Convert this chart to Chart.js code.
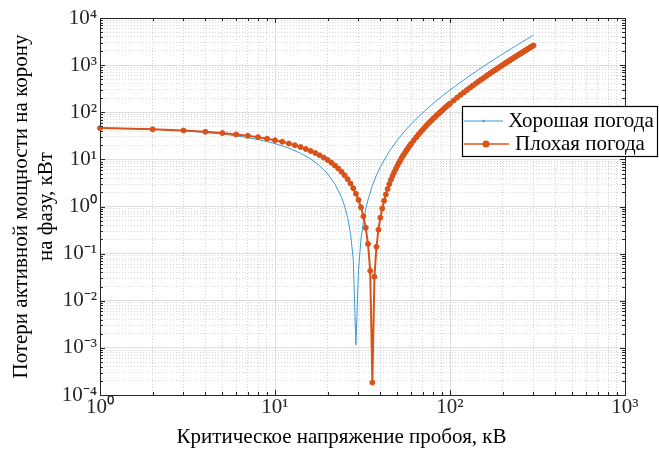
<!DOCTYPE html>
<html><head><meta charset="utf-8">
<script src="https://cdn.jsdelivr.net/npm/chart.js@4"></script>
<style>html,body{margin:0;padding:0;background:#fff}</style>
</head><body>
<canvas id="c" width="659" height="450" style="width:659px;height:450px;display:block"></canvas>
<script>
// ---- data ----
const seriesNames = ['Хорошая погода', 'Плохая погода'];
const xTitle = 'Критическое напряжение пробоя, кВ';
const yTitle = ['Потери активной мощности на корону', 'на фазу, кВт'];

const xGood = [1,2,3,4,5,6,7,8,9,10,12,14,16,18,20,22,24,25,26,27,28,29,30,31,32,33,34,36,38,40,45,50,55,60,70,80,90,100,120,140,160,180,200,225,250,275,300];
const yGood = [46.7,43.5,40.3,37.3,34.4,31.6,28.9,26.4,23.9,21.6,17.3,13.5,10.2,7.32,4.93,3.01,1.56,1.01,0.582,0.270,0.0767,0.00116,0.0436,0.204,0.483,0.879,1.39,2.78,4.63,6.96,14.8,25.7,39.5,56.2,98.5,153,219,296,487,725,1010,1343,1722,2263,2878,3566,4329];

const xBad = [1,2,3,4,5,6,7,8,9,10,11,12,13,14,15,16,17,18,19,20,21,22,23,24,25,26,27,28,29,30,31,32,33,34,35,36,37,38,39,40,41,42,43,44,45,46,47,48,49,50,51,52,53,54,55,56,57,58,59,60,
  62,64,66,68,70,72,74,76,78,80,82,84,86,88,90,92,94,96,98,100,
  105,110,115,120,125,130,135,140,145,150,155,160,165,170,175,180,185,190,195,200,205,210,215,220,225,230,235,240,245,250,255,260,265,270,275,280,285,290,295,300];
const yBad = [46.1,43.5,41.0,38.6,36.2,33.9,31.7,29.6,27.5,25.5,23.6,21.7,20.0,18.3,16.6,15.1,13.6,12.2,10.9,9.68,8.52,7.42,6.41,5.46,4.60,3.80,3.08,2.44,1.87,1.38,0.964,0.621,0.353,0.161,0.0429,0.000184,0.0324,0.140,0.322,0.579,0.911,1.32,1.80,2.36,2.99,3.70,4.48,5.34,6.27,7.28,8.36,9.52,10.8,12.1,13.4,14.9,16.4,18.0,19.7,21.5,
  25.2,29.3,33.6,38.2,43.2,48.4,54.0,59.8,65.9,72.4,79.1,86.2,93.5,101,109,117,126,135,144,153,
  178,205,234,264,297,331,367,405,445,487,530,576,623,673,724,777,832,889,947,1008,1070,1134,1201,1269,1339,1410,1484,1560,1637,1716,1797,1880,1965,2052,2141,2231,2324,2418,2514,2612];

const xMajor = [1, 10, 100, 1000];
const xTickLabels = ['10\u2070', '10\u00B9', '10\u00B2', '10\u00B3'];
const yMajor = [1e-4, 1e-3, 1e-2, 1e-1, 1, 10, 100, 1000, 10000];
const yTickLabels = ['10\u207B\u2074', '10\u207B\u00B3', '10\u207B\u00B2', '10\u207B\u00B9', '10\u2070', '10\u00B9', '10\u00B2', '10\u00B3', '10\u2074'];

// ---- styling ----
const FONT = '"Liberation Serif", "Times New Roman", serif';
const blue = '#3d9ad6';
const orange = '#D95319';
const axisColor = '#262626';
const majorGrid = '#dedede';
const minorGrid = '#d6d6d6';
const none = 'rgba(0,0,0,0)';

function makeTicks(majors) {
  const out = [];
  for (let i = 0; i < majors.length; i++) {
    out.push({ value: majors[i], major: true });
    if (i < majors.length - 1) for (let m = 2; m <= 9; m++) out.push({ value: majors[i] * m, major: false });
  }
  return out;
}
function labelFor(v, majors, labels) {
  for (let i = 0; i < majors.length; i++) {
    if (Math.abs(Math.log10(v) - Math.log10(majors[i])) < 1e-6) return labels[i];
  }
  return '';
}

const decor = {
  id: 'decor',
  afterDraw(chart) {
    const ctx = chart.ctx, a = chart.chartArea;
    const xs = chart.scales.x, ys = chart.scales.y;
    ctx.save();
    ctx.strokeStyle = axisColor; ctx.lineWidth = 1;
    ctx.beginPath();
    xs.ticks.forEach(t => {
      const p = Math.round(xs.getPixelForValue(t.value)) + 0.5; const L = t.major ? 5 : 3;
      ctx.moveTo(p, a.bottom); ctx.lineTo(p, a.bottom - L);
      ctx.moveTo(p, a.top); ctx.lineTo(p, a.top + L);
    });
    ys.ticks.forEach(t => {
      const p = Math.round(ys.getPixelForValue(t.value)) + 0.5; const L = t.major ? 5 : 3;
      ctx.moveTo(a.left, p); ctx.lineTo(a.left + L, p);
      ctx.moveTo(a.right, p); ctx.lineTo(a.right - L, p);
    });
    ctx.stroke();

    // legend
    const bx = 462.5, by = 106.5, bw = 195, bh = 50;
    ctx.fillStyle = '#fff';
    ctx.fillRect(bx, by, bw, bh);
    ctx.strokeStyle = '#000'; ctx.lineWidth = 1.2;
    ctx.strokeRect(bx, by, bw, bh);
    const ds = chart.data.datasets;
    const rows = [by + 14.5, by + 37.5];
    ctx.strokeStyle = blue; ctx.lineWidth = 1;
    ctx.beginPath(); ctx.moveTo(464, rows[0]); ctx.lineTo(503, rows[0]); ctx.stroke();
    ctx.fillStyle = blue; ctx.beginPath(); ctx.arc(483.5, rows[0], 1.2, 0, Math.PI * 2); ctx.fill();
    ctx.strokeStyle = orange; ctx.lineWidth = 1.3;
    ctx.beginPath(); ctx.moveTo(464, rows[1]); ctx.lineTo(509, rows[1]); ctx.stroke();
    ctx.fillStyle = orange; ctx.beginPath(); ctx.arc(486, rows[1], 3.5, 0, Math.PI * 2); ctx.fill();
    ctx.fillStyle = '#000';
    ctx.font = '21px ' + FONT;
    ctx.textAlign = 'center'; ctx.textBaseline = 'middle';
    ctx.fillText(ds[0].label, 581, rows[0]);
    ctx.fillText(ds[1].label, 580, rows[1]);
    ctx.restore();
  }
};

const tickFont = { family: FONT, size: 21 };

new Chart(document.getElementById('c'), {
  type: 'line',
  data: {
    datasets: [
      {
        label: seriesNames[0],
        data: xGood.map((x, i) => ({ x: x, y: yGood[i] })),
        borderColor: blue, backgroundColor: blue, borderWidth: 1,
        pointRadius: 0, tension: 0, order: 2
      },
      {
        label: seriesNames[1],
        data: xBad.map((x, i) => ({ x: x, y: yBad[i] })),
        borderColor: orange, backgroundColor: orange, borderWidth: 2,
        pointRadius: 2.5, pointBorderWidth: 1, pointBackgroundColor: orange, pointBorderColor: orange,
        tension: 0, order: 1, clip: false
      }
    ]
  },
  options: {
    responsive: false,
    devicePixelRatio: 1,
    animation: false,
    layout: { padding: { top: 18, right: 34, left: 0, bottom: 0 } },
    plugins: { legend: { display: false }, tooltip: { enabled: false } },
    scales: {
      x: {
        type: 'logarithmic', position: 'bottom', min: 1, max: 1000,
        afterBuildTicks: s => { s.ticks = makeTicks(xMajor); },
        afterFit: s => { s.height = 55; },
        ticks: { autoSkip: false, maxRotation: 0, padding: 0, color: axisColor, font: tickFont,
          callback: v => labelFor(v, xMajor, xTickLabels) },
        grid: { drawTicks: false, lineWidth: 1, color: c => (c.tick && c.tick.major) ? none : minorGrid },
        border: { display: true, color: axisColor, width: 1, dash: [1, 2] },
        title: { display: true, text: xTitle + '\u2002\u2002\u2002\u2002', color: '#000', font: { family: FONT, size: 21 }, padding: { top: 0, bottom: 0 } }
      },
      x2: {
        type: 'logarithmic', position: 'top', min: 1, max: 1000,
        afterBuildTicks: s => { s.ticks = makeTicks(xMajor); },
        afterFit: s => { s.height = 0; },
        ticks: { display: false },
        grid: { drawTicks: false, lineWidth: 1, color: c => (c.tick && c.tick.major) ? majorGrid : none },
        border: { display: true, color: axisColor, width: 1 }
      },
      y: {
        type: 'logarithmic', position: 'left', min: 1e-4, max: 1e4,
        afterBuildTicks: s => { s.ticks = makeTicks(yMajor); },
        afterFit: s => { s.width = 100; },
        ticks: { autoSkip: false, padding: 3, color: axisColor, font: tickFont,
          callback: v => labelFor(v, yMajor, yTickLabels) },
        grid: { drawTicks: false, lineWidth: 1, color: c => (c.tick && c.tick.major) ? none : minorGrid },
        border: { display: true, color: axisColor, width: 1, dash: [1, 2] },
        title: { display: true, text: yTitle, color: '#000', font: { family: FONT, size: 21, lineHeight: 1.2 }, padding: { top: 9, bottom: 0 } }
      },
      y2: {
        type: 'logarithmic', position: 'right', min: 1e-4, max: 1e4,
        afterBuildTicks: s => { s.ticks = makeTicks(yMajor); },
        afterFit: s => { s.width = 0; },
        ticks: { display: false },
        grid: { drawTicks: false, lineWidth: 1, color: c => (c.tick && c.tick.major) ? majorGrid : none },
        border: { display: true, color: axisColor, width: 1 }
      }
    }
  },
  plugins: [decor]
});
</script>
</body></html>
